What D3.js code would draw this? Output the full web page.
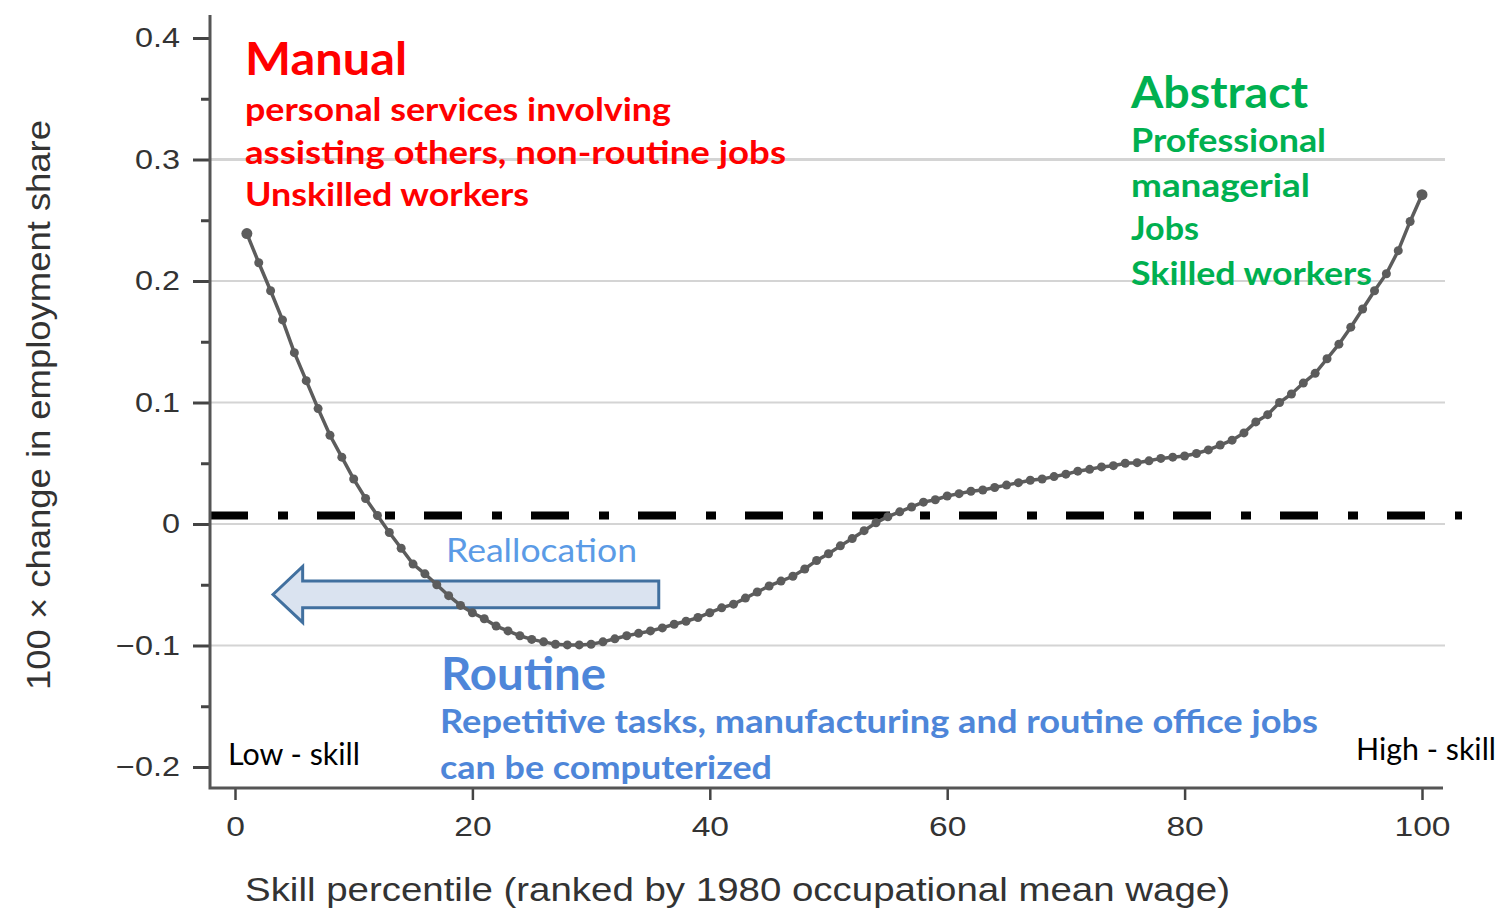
<!DOCTYPE html>
<html>
<head>
<meta charset="utf-8">
<script src="https://cdn.jsdelivr.net/npm/d3@7"></script>
<style>
  html, body { margin: 0; padding: 0; background: #fff; }
  svg { display: block; }
  .tick text { font-family: "Liberation Sans", Arial, sans-serif; fill: #333; }
  .note { font-family: Lato, "Open Sans", sans-serif; }
</style>
</head>
<body>
<div id="chart"></div>
<script>
// skill percentile (1..100) and 100 x change in employment share
const percentiles = d3.range(1, 101);
const shareChange = [
  0.239, 0.215, 0.192, 0.168, 0.141, 0.118, 0.095, 0.073, 0.055, 0.037,
  0.021, 0.007, -0.007, -0.020, -0.033, -0.041, -0.050, -0.059, -0.067, -0.073,
  -0.078, -0.084, -0.088, -0.092, -0.095, -0.097, -0.099, -0.0995, -0.0995, -0.099,
  -0.097, -0.0945, -0.092, -0.090, -0.088, -0.0855, -0.0825, -0.080, -0.077, -0.073,
  -0.069, -0.066, -0.061, -0.056, -0.051, -0.047, -0.043, -0.037, -0.030, -0.0245,
  -0.018, -0.012, -0.0055, 0.001, 0.006, 0.010, 0.014, 0.018, 0.020, 0.023,
  0.025, 0.027, 0.028, 0.030, 0.032, 0.034, 0.036, 0.037, 0.039, 0.041,
  0.0435, 0.045, 0.047, 0.048, 0.050, 0.0505, 0.052, 0.054, 0.055, 0.056,
  0.058, 0.061, 0.065, 0.069, 0.075, 0.084, 0.090, 0.100, 0.107, 0.116,
  0.124, 0.136, 0.148, 0.162, 0.177, 0.192, 0.206, 0.225, 0.249, 0.271
];
const xTicks = [0, 20, 40, 60, 80, 100];
const yTicks = [0.4, 0.3, 0.2, 0.1, 0, -0.1, -0.2];
const yMinorTicks = [0.35, 0.25, 0.15, 0.05, -0.05, -0.15];
const gridValues = [0.3, 0.2, 0.1, 0, -0.1];
const zeroRef = 0.007;  // the dash-dot reference line sits just above the 0 grid line

const data = percentiles.map((p, i) => ({p, v: shareChange[i]}));

const W = 1505, H = 908;
const svg = d3.select("#chart").append("svg").attr("width", W).attr("height", H);

const x = d3.scaleLinear().domain([0, 100]).range([235, 1422]);
const y = d3.scaleLinear().domain([-0.2, 0.4]).range([767, 38]);
const frameLeft = 210, frameBottom = 788, frameTop = 15, frameRight = 1443;
const stretch = 1.2; // reference type is wider than it is tall

// grid lines
svg.append("g").selectAll("line").data(gridValues).join("line")
  .attr("x1", frameLeft).attr("x2", 1445)
  .attr("y1", d => y(d)).attr("y2", d => y(d))
  .attr("stroke", "#d4d4d4").attr("stroke-width", d => d === 0.3 ? 3 : 2);

// dash-dot reference line
svg.append("line")
  .attr("x1", frameLeft).attr("x2", 1462)
  .attr("y1", y(zeroRef)).attr("y2", y(zeroRef))
  .attr("stroke", "#000").attr("stroke-width", 8)
  .attr("stroke-dasharray", "38,30,10,29");

// axes
const fmt = d => d < 0 ? "\u2212" + Math.abs(d) : String(d);
const gy = svg.append("g").attr("transform", `translate(${frameLeft},0)`)
  .call(d3.axisLeft(y).tickValues(yTicks).tickSize(17).tickPadding(13).tickFormat(fmt));
gy.select(".domain").remove();
gy.selectAll(".tick line").attr("stroke", "#444").attr("stroke-width", 3);
gy.selectAll(".tick text").style("font-size", "27px")
  .attr("x", -30 / stretch).attr("transform", `scale(${stretch},1)`);

const gym = svg.append("g").attr("transform", `translate(${frameLeft},0)`)
  .call(d3.axisLeft(y).tickValues(yMinorTicks).tickSize(9).tickFormat(""));
gym.select(".domain").remove();
gym.selectAll(".tick line").attr("stroke", "#444").attr("stroke-width", 3);

const gx = svg.append("g").attr("transform", `translate(0,${frameBottom})`)
  .call(d3.axisBottom(x).tickValues(xTicks).tickSize(12).tickPadding(16));
gx.select(".domain").remove();
gx.selectAll(".tick line").attr("stroke", "#444").attr("stroke-width", 2.5);
gx.selectAll(".tick text").style("font-size", "28px").attr("transform", `scale(${stretch},1)`);

// frame
svg.append("path")
  .attr("d", `M${frameLeft},${frameTop}V${frameBottom}H${frameRight}`)
  .attr("fill", "none").attr("stroke", "#555").attr("stroke-width", 3);

// axis titles
svg.append("text")
  .attr("transform", "translate(50,405) rotate(-90)")
  .attr("text-anchor", "middle")
  .style("font-family", "'Liberation Sans', Arial, sans-serif")
  .style("font-size", "33px").attr("fill", "#333")
  .attr("textLength", 570).attr("lengthAdjust", "spacingAndGlyphs")
  .text("100 \u00d7 change in employment share");
svg.append("text")
  .attr("x", 245).attr("y", 901)
  .style("font-family", "'Liberation Sans', Arial, sans-serif")
  .style("font-size", "33px").attr("fill", "#333")
  .attr("textLength", 985).attr("lengthAdjust", "spacingAndGlyphs")
  .text("Skill percentile (ranked by 1980 occupational mean wage)");

// reallocation arrow
const arrow = {tip: 3.2, head: 5.7, tail: 35.7, mid: -0.058, body: 0.011, wing: 0.023};
svg.append("path")
  .attr("d", d3.line()([
    [x(arrow.tip), y(arrow.mid)],
    [x(arrow.head), y(arrow.mid + arrow.wing)],
    [x(arrow.head), y(arrow.mid + arrow.body)],
    [x(arrow.tail), y(arrow.mid + arrow.body)],
    [x(arrow.tail), y(arrow.mid - arrow.body)],
    [x(arrow.head), y(arrow.mid - arrow.body)],
    [x(arrow.head), y(arrow.mid - arrow.wing)]
  ]) + "Z")
  .attr("fill", "#dae3f0").attr("stroke", "#41709f").attr("stroke-width", 3)
  .attr("stroke-linejoin", "miter");

// curve
svg.append("path").datum(data)
  .attr("d", d3.line().x(d => x(d.p)).y(d => y(d.v)))
  .attr("fill", "none").attr("stroke", "#5c5c5c").attr("stroke-width", 3.5);
svg.append("g").selectAll("circle").data(data).join("circle")
  .attr("cx", d => x(d.p)).attr("cy", d => y(d.v))
  .attr("r", d => (d.p === 1 || d.p === 100) ? 5.5 : 4.5)
  .attr("fill", "#5c5c5c");

// annotations (w = width the line spans in the reference)
const notes = [
  {t: "Manual", x: 245, y: 75, s: 45, b: 700, w: 162, c: "#ff0000"},
  {t: "personal services involving", x: 245, y: 121, s: 33, b: 700, w: 426, c: "#ff0000"},
  {t: "assisting others,  non-routine jobs", x: 245, y: 164, s: 33, b: 700, w: 541, c: "#ff0000"},
  {t: "Unskilled workers", x: 245, y: 206, s: 33, b: 700, w: 284, c: "#ff0000"},
  {t: "Abstract", x: 1131, y: 108, s: 44, b: 700, w: 177, c: "#00b050"},
  {t: "Professional", x: 1131, y: 152, s: 33, b: 700, w: 195, c: "#00b050"},
  {t: "managerial", x: 1131, y: 197, s: 33, b: 700, w: 179, c: "#00b050"},
  {t: "Jobs", x: 1131, y: 240, s: 33, b: 700, w: 68, c: "#00b050"},
  {t: "Skilled workers", x: 1131, y: 285, s: 33, b: 700, w: 241, c: "#00b050"},
  {t: "Reallocation", x: 446, y: 562, s: 33, b: 400, w: 191, c: "#5b9be6"},
  {t: "Routine", x: 441, y: 690, s: 45, b: 700, w: 165, c: "#4e86d9"},
  {t: "Repetitive tasks, manufacturing and routine office jobs", x: 440, y: 733, s: 33, b: 700, w: 878, c: "#4e86d9"},
  {t: "can be computerized", x: 440, y: 779, s: 33, b: 700, w: 332, c: "#4e86d9"},
  {t: "Low - skill", x: 228, y: 765, s: 30, b: 400, w: 132, c: "#000"},
  {t: "High - skill", x: 1356, y: 760, s: 30, b: 400, w: 140, c: "#000"}
];
svg.append("g").selectAll("text").data(notes).join("text")
  .attr("class", "note")
  .attr("x", d => d.x).attr("y", d => d.y)
  .style("font-size", d => d.s + "px").style("font-weight", d => d.b)
  .attr("textLength", d => d.w).attr("lengthAdjust", "spacingAndGlyphs")
  .attr("fill", d => d.c)
  .text(d => d.t);
</script>
</body>
</html>
